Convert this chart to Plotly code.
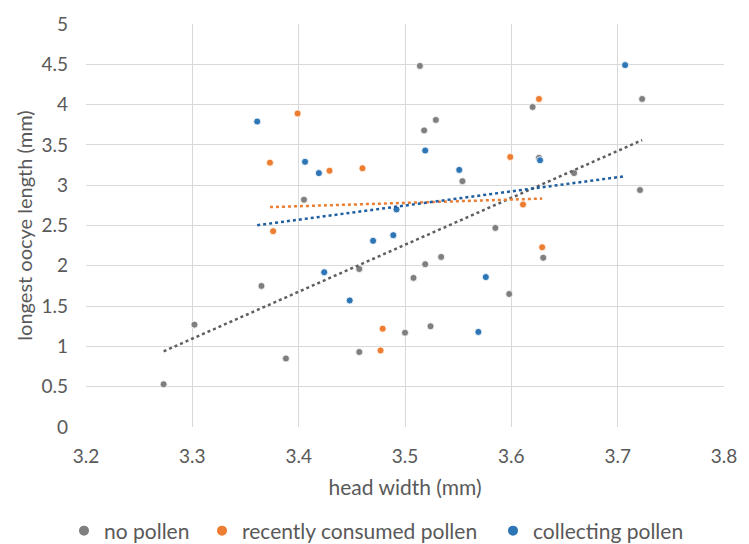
import numpy as np
import plotly.graph_objects as go

# no pollen
np_x = [3.273, 3.302, 3.365, 3.388, 3.405, 3.457, 3.457, 3.500, 3.508, 3.519, 3.524, 3.534,
        3.514, 3.518, 3.529, 3.554, 3.585, 3.598, 3.620, 3.626, 3.630, 3.659, 3.721, 3.723]
np_y = [0.53, 1.27, 1.75, 0.85, 2.82, 0.93, 1.96, 1.17, 1.85, 2.02, 1.25, 2.11,
        4.48, 3.68, 3.81, 3.05, 2.47, 1.65, 3.97, 3.34, 2.10, 3.15, 2.94, 4.07]

# recently consumed pollen
rc_x = [3.399, 3.373, 3.429, 3.460, 3.376, 3.479, 3.477, 3.599, 3.626, 3.611, 3.629]
rc_y = [3.89, 3.28, 3.18, 3.21, 2.43, 1.22, 0.95, 3.35, 4.07, 2.76, 2.23]

# collecting pollen
cp_x = [3.361, 3.406, 3.419, 3.492, 3.489, 3.470, 3.424, 3.448, 3.519, 3.551, 3.627, 3.707, 3.576, 3.569]
cp_y = [3.79, 3.29, 3.15, 2.70, 2.38, 2.31, 1.92, 1.57, 3.43, 3.19, 3.31, 4.49, 1.86, 1.18]

series = [
    ("no pollen", np_x, np_y, "#7f7f7f", "#5f5f5f", "legend"),
    ("recently consumed pollen", rc_x, rc_y, "#ed7d31", "#ed7d31", "legend2"),
    ("collecting pollen", cp_x, cp_y, "#2e75b6", "#1f5f9f", "legend3"),
]

fig = go.Figure()
for name, xs, ys, col, tcol, lg in series:
    fig.add_trace(go.Scatter(x=xs, y=ys, mode="markers", name=name, legend=lg,
                             marker=dict(size=7, color=col, line=dict(width=0.8, color="white"))))
for name, xs, ys, col, tcol, lg in series:
    m, b = np.polyfit(xs, ys, 1)
    x0, x1 = min(xs), max(xs)
    fig.add_trace(go.Scatter(x=[x0, x1], y=[m * x0 + b, m * x1 + b], mode="lines",
                             line=dict(color=tcol, width=2.5, dash="dot"),
                             showlegend=False, hoverinfo="skip"))

FAM = "Lato"
GREY = "#595959"
W, H = 749, 544
legend_y = (H - 531) / H


def leg(dot_x):
    return dict(orientation="h", xref="container", x=(dot_x - 22) / W, xanchor="left",
                yref="container", y=legend_y, yanchor="middle",
                font=dict(family=FAM, size=21, color=GREY), itemsizing="constant",
                bgcolor="rgba(0,0,0,0)")


fig.update_layout(
    width=W, height=H,
    margin=dict(l=86, r=16, t=18, b=117),
    plot_bgcolor="white", paper_bgcolor="white",
    font=dict(family=FAM, size=19, color=GREY),
    showlegend=True,
    legend=leg(86),
    legend2=leg(224),
    legend3=leg(515),
    xaxis=dict(range=[3.2, 3.8], dtick=0.1, tickformat=".1f", showgrid=True,
               gridcolor="#d9d9d9", gridwidth=1, zeroline=False, showline=False,
               ticks="", ticklabelstandoff=16,
               title=dict(text="head width (mm)", standoff=14,
                          font=dict(family=FAM, size=21, color=GREY)),
               tickfont=dict(family=FAM, size=19, color=GREY)),
    yaxis=dict(range=[0, 5], dtick=0.5, showgrid=True, gridcolor="#d9d9d9", gridwidth=1,
               zeroline=False, showline=False, ticks="", ticklabelstandoff=17,
               title=dict(text="longest oocye length (mm)", standoff=3,
                          font=dict(family=FAM, size=20, color=GREY)),
               tickfont=dict(family=FAM, size=19, color=GREY)),
)
fig.write_html("out.html")
